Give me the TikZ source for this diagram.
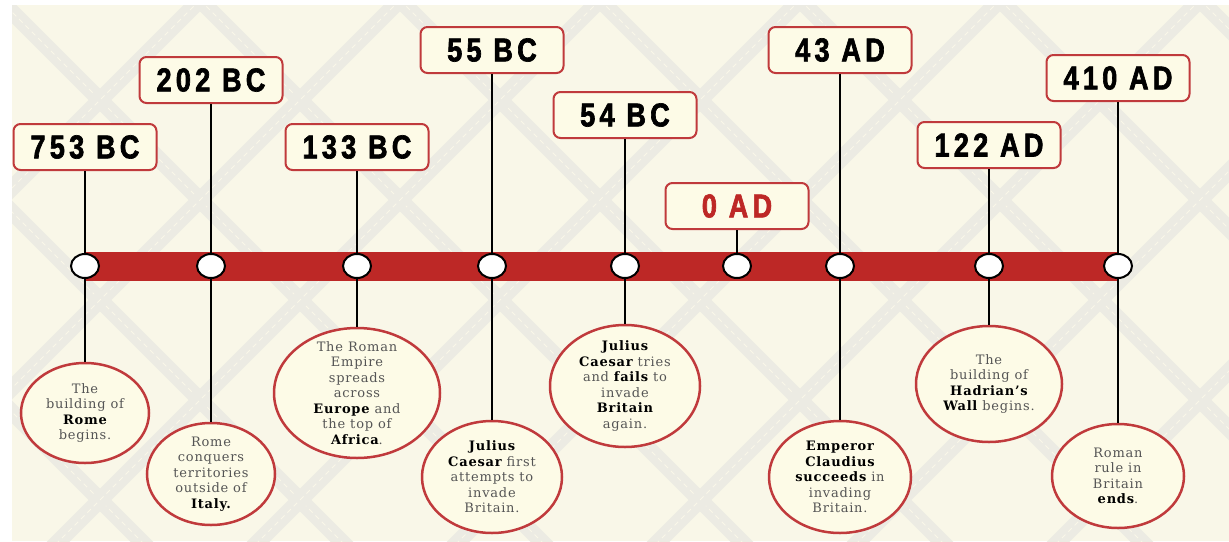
\documentclass[tikz,border=0pt]{standalone}
\usepackage{fontspec}
\setmainfont{DejaVu Serif}[LetterSpace=6]
\newfontfamily\datefont{Liberation Sans}[FakeBold=2, FakeStretch=0.82, LetterSpace=13]
\usetikzlibrary{shapes.geometric}
\definecolor{bgcream}{HTML}{F9F7E8}
\definecolor{bandgray}{HTML}{ECEBE3}
\definecolor{boxcream}{HTML}{FDFBE7}
\definecolor{boxred}{HTML}{C03A3C}
\definecolor{barred}{HTML}{BD2826}
\definecolor{txtgray}{HTML}{555555}
\newcommand{\bw}[1]{\textcolor{black}{\bfseries #1}}
\tikzset{
  band/.style={line width=16pt, bandgray},
  bandmid/.style={line width=1pt, bgcream, dash pattern=on 5pt off 4pt},
  datebox/.style={draw=boxred, line width=2pt, fill=boxcream, rounded corners=7pt,
    minimum width=143pt, minimum height=46pt, inner sep=0pt,
    font=\datefont\bfseries\fontsize{33}{33}\selectfont},
  dotnode/.style={ellipse, draw=black, line width=2pt, fill=white,
    minimum width=28pt, minimum height=24pt, inner sep=0pt},
  evt/.style={ellipse, draw=boxred, line width=2.5pt, fill=boxcream, inner sep=0pt},
  evttext/.style={align=center, text=txtgray, inner sep=0pt,
    font=\fontsize{13}{15.5}\selectfont},
  conn/.style={line width=2pt, black}
}
\begin{document}
\begin{tikzpicture}[x=1pt,y=-1pt]
\useasboundingbox (0,0) rectangle (1229,541);
\fill[white] (0,0) rectangle (1229,541);
\begin{scope}
  \clip (12,5) rectangle (1229,541);
  \fill[bgcream] (12,5) rectangle (1229,541);
  \foreach \c in {-600,-400,...,1400} {
    \draw[band] (\c,0) -- ++(620,620);
    \draw[bandmid] (\c,0) -- ++(620,620);
  }
  \foreach \c in {0,200,...,2000} {
    \draw[band] (\c,0) -- ++(-620,620);
    \draw[bandmid] (\c,0) -- ++(-620,620);
  }
\end{scope}

% red bar
\fill[barred] (85,252) rectangle (1118,281);

% date boxes
\node[datebox] (d1) at (85,147) {753 BC};
\node[datebox] (d2) at (211,80) {202 BC};
\node[datebox] (d3) at (357,147) {133 BC};
\node[datebox] (d4) at (492,50) {55 BC};
\node[datebox] (d5) at (625,115) {54 BC};
\node[datebox, text=barred] (d6) at (737,206) {0 AD};
\node[datebox] (d7) at (840,50) {43 AD};
\node[datebox] (d8) at (989,145) {122 AD};
\node[datebox] (d9) at (1118,78) {410 AD};

% dots
\node[dotnode] (p1) at (85,266) {};
\node[dotnode] (p2) at (211,266) {};
\node[dotnode] (p3) at (357,266) {};
\node[dotnode] (p4) at (492,266) {};
\node[dotnode] (p5) at (625,266) {};
\node[dotnode] (p6) at (737,266) {};
\node[dotnode] (p7) at (840,266) {};
\node[dotnode] (p8) at (989,266) {};
\node[dotnode] (p9) at (1118,266) {};

% event ellipses
\node[evt, minimum width=128pt, minimum height=100pt] (e1) at (85,413) {};
\node[evt, minimum width=128pt, minimum height=102pt] (e2) at (211,474) {};
\node[evt, minimum width=166pt, minimum height=130pt] (e3) at (357,393) {};
\node[evt, minimum width=140pt, minimum height=112pt] (e4) at (492,477) {};
\node[evt, minimum width=150pt, minimum height=122pt] (e5) at (625,386) {};
\node[evt, minimum width=142pt, minimum height=112pt] (e7) at (840,477) {};
\node[evt, minimum width=146pt, minimum height=116pt] (e8) at (989,384) {};
\node[evt, minimum width=132pt, minimum height=104pt] (e9) at (1118,476) {};

% connectors
\foreach \i in {1,...,9} { \draw[conn] (d\i.south) -- (p\i.north); }
\foreach \i in {1,2,3,4,5,7,8,9} { \draw[conn] (p\i.south) -- (e\i.north); }

% event texts
\node[evttext] (t1) at (e1.center) {The\\building of\\\bw{Rome}\\begins.};
\node[evttext] (t2) at (e2.center) {Rome\\conquers\\territories\\outside of\\\bw{Italy.}};
\node[evttext] (t3) at (e3.center) {The Roman\\Empire\\spreads\\across\\\bw{Europe} and\\the top of\\\bw{Africa}.};
\node[evttext] (t4) at (e4.center) {\bw{Julius}\\\bw{Caesar} first\\attempts to\\invade\\Britain.};
\node[evttext] (t5) at (e5.center) {\bw{Julius}\\\bw{Caesar} tries\\and \bw{fails} to\\invade\\\bw{Britain}\\again.};
\node[evttext] (t7) at (e7.center) {\bw{Emperor}\\\bw{Claudius}\\\bw{succeeds} in\\invading\\Britain.};
\node[evttext] (t8) at (e8.center) {The\\building of\\\bw{Hadrian's}\\\bw{Wall} begins.};
\node[evttext] (t9) at (e9.center) {Roman\\rule in\\Britain\\\bw{ends}.};
\end{tikzpicture}
\end{document}
